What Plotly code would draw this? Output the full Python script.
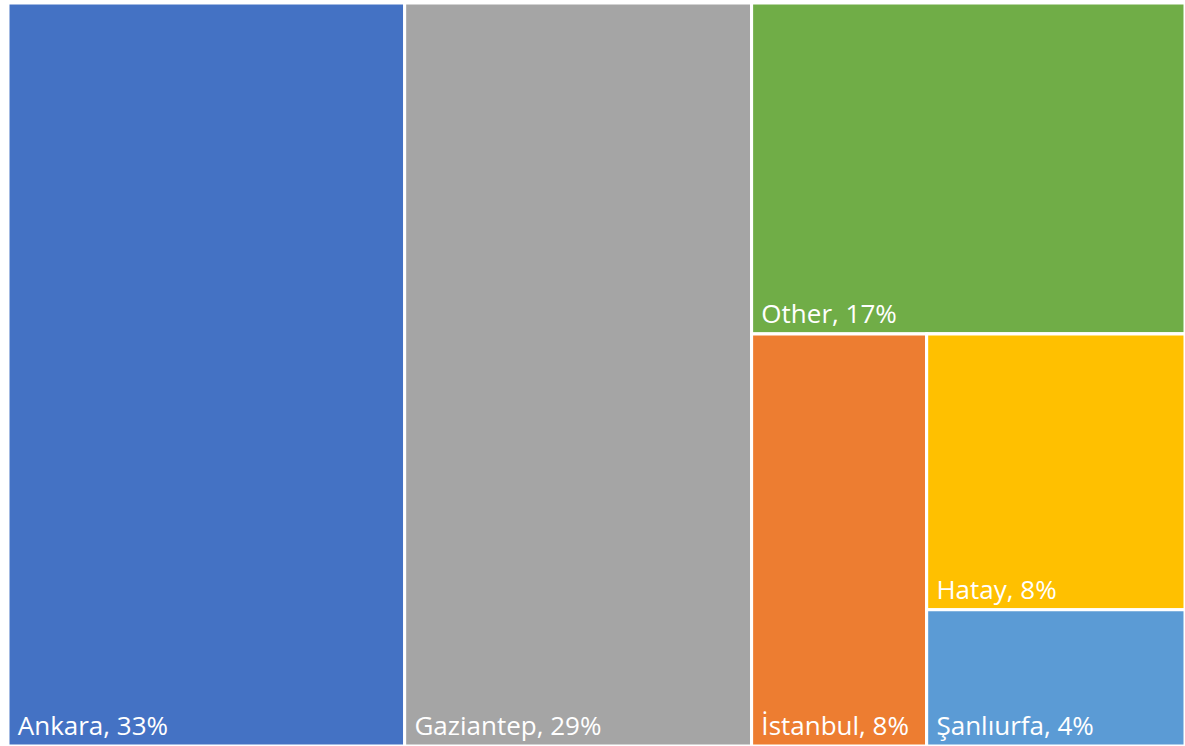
import plotly.graph_objects as go

# Data
cities = ["Ankara", "Gaziantep", "Other", "İstanbul", "Hatay", "Şanlıurfa"]
sizes = [33.5, 29.3, 16.3, 8.2, 8.1, 4.0]          # tile areas
share_labels = ["33%", "29%", "17%", "8%", "8%", "4%"]  # shares as printed
colors = ["#4472C4", "#A5A5A5", "#70AD47", "#ED7D31", "#FFC000", "#5B9BD5"]

city_parent = {"Ankara": "root", "Gaziantep": "root", "Other": "g1",
               "İstanbul": "g2", "Hatay": "g3", "Şanlıurfa": "g3"}
group_parent = {"g1": "root", "g2": "g1", "g3": "g2"}
# Node order: each leaf precedes the hidden group that follows it in the layout
order = ["root", "Ankara", "Gaziantep", "g1", "Other", "g2", "İstanbul", "g3",
         "Hatay", "Şanlıurfa"]

ids, labels, parents, values, texts, node_colors = [], [], [], [], [], []
for n in order:
    ids.append(n)
    if n in cities:
        i = cities.index(n)
        labels.append(n)
        parents.append(city_parent[n])
        values.append(sizes[i])
        texts.append(f"&nbsp;{n}, {share_labels[i]}")
        node_colors.append(colors[i])
    else:
        labels.append("")
        parents.append(group_parent.get(n, ""))
        values.append(0)
        texts.append("")
        node_colors.append("white")

fig = go.Figure(go.Treemap(
    ids=ids,
    labels=labels,
    parents=parents,
    values=values,
    text=texts,
    branchvalues="remainder",
    texttemplate="%{text}",
    textposition="bottom left",
    textfont=dict(family="Open Sans", size=26, color="white"),
    marker=dict(colors=node_colors, line=dict(color="white", width=3),
                pad=dict(t=0, l=0, r=0, b=0), depthfade=False),
    tiling=dict(packing="slice-dice", pad=0),
    pathbar=dict(visible=False),
    sort=False,
    hoverinfo="text",
))

fig.update_layout(
    width=1185, height=746,
    margin=dict(l=8, r=0, t=3, b=0),
    paper_bgcolor="white",
)

fig.write_html("out.html")
